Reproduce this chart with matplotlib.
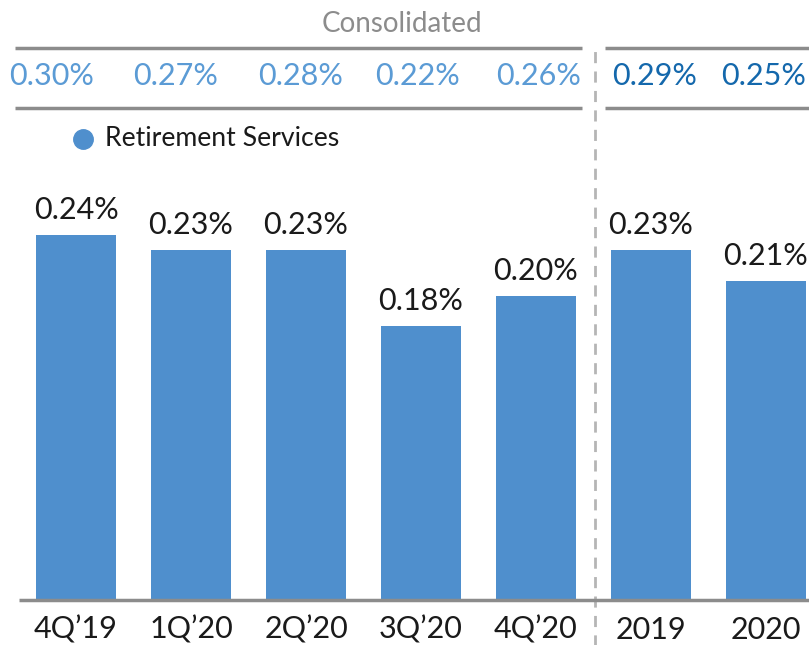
import matplotlib.pyplot as plt

# data
periods = ["4Q\u201919", "1Q\u201920", "2Q\u201920", "3Q\u201920", "4Q\u201920", "2019", "2020"]
retirement = [0.24, 0.23, 0.23, 0.18, 0.20, 0.23, 0.21]
consolidated = [0.30, 0.27, 0.28, 0.22, 0.26, 0.29, 0.25]

# x positions of the consolidated row (it is laid out a bit differently than the bars)
cons_x = [-0.21, 0.87, 1.95, 2.97, 4.02, 5.03, 5.98]

bar_color = "#4F8FCD"
light_blue = "#5B9BD5"
dark_blue = "#1468AC"
grey = "#8C8C8C"

plt.rcParams['font.family'] = ['Lato', 'DejaVu Sans']

fig = plt.figure(figsize=(8.09, 6.45), dpi=100)
# axes bottom sits on the baseline, full width
ax = fig.add_axes([0, 45 / 645, 1, 600 / 645])
ax.set_xlim(-0.661, 6.374)
ax.set_ylim(0, 600 / 1520)
ax.axis("off")

x = list(range(len(periods)))
bars = ax.bar(x, retirement, width=0.7, color=bar_color, zorder=2)
ax.bar_label(bars, labels=[f"{v:.2f}%" for v in retirement], padding=8,
             fontsize=22, color="#1a1a1a")

# baseline
ax.hlines(0, -0.5, 6.374, color=grey, lw=2.5, zorder=3, clip_on=False)

# period labels under the baseline
for xi, lab in zip(x, periods):
    ax.text(xi, -0.0195, lab, ha="center", va="center", fontsize=22,
            color="#1a1a1a", clip_on=False)

# divider between quarters and full years
ax.vlines(4.513, -0.03, 0.3632, color="#B5B5B5", lw=2, linestyles=(0, (4, 3)),
          clip_on=False, zorder=1)

# consolidated row
ax.text(2.83, 0.379, "Consolidated", ha="center", va="center", fontsize=20,
        color=grey)
for y in (0.3632, 0.3237):
    ax.hlines(y, -0.53, 4.4, color=grey, lw=2.5)
    ax.hlines(y, 4.6, 6.374, color=grey, lw=2.5)
for i, v in enumerate(consolidated):
    c = light_blue if i < 5 else dark_blue
    ax.text(cons_x[i], 0.3447, f"{v:.2f}%", ha="center", va="center",
            fontsize=22, color=c)

# legend
ax.plot([0.061], [0.3033], "o", ms=14, color=bar_color)
ax.text(0.252, 0.3033, "Retirement Services", ha="left", va="center",
        fontsize=19.2, color="#1a1a1a")

fig.savefig("out.png", dpi=100)
